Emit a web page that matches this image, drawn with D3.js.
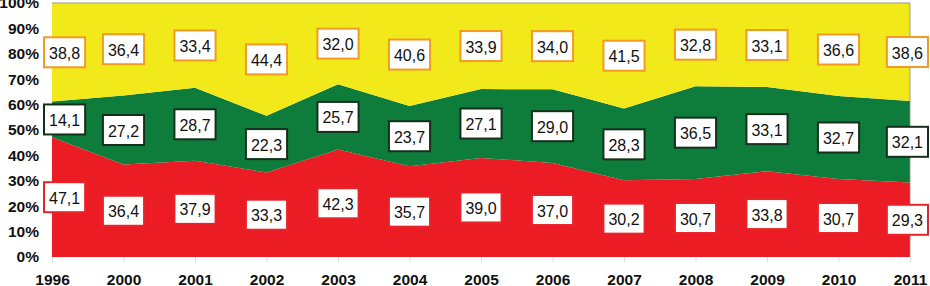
<!DOCTYPE html>
<html>
<head>
<meta charset="utf-8">
<script src="https://cdn.jsdelivr.net/npm/d3@7"></script>
<style>
  body { margin: 0; background: #fff; }
  svg { display: block; font-family: "Liberation Sans", Arial, sans-serif; }
</style>
</head>
<body>
<svg id="chart" width="930" height="286"></svg>
<script>
var years = ["1996", "2000", "2001", "2002", "2003", "2004", "2005", "2006", "2007", "2008", "2009", "2010", "2011"];
var redVals = [47.1, 36.4, 37.9, 33.3, 42.3, 35.7, 39.0, 37.0, 30.2, 30.7, 33.8, 30.7, 29.3];
var greenVals = [14.1, 27.2, 28.7, 22.3, 25.7, 23.7, 27.1, 29.0, 28.3, 36.5, 33.1, 32.7, 32.1];
var yellowVals = [38.8, 36.4, 33.4, 44.4, 32.0, 40.6, 33.9, 34.0, 41.5, 32.8, 33.1, 36.6, 38.6];
var yTicks = [0, 10, 20, 30, 40, 50, 60, 70, 80, 90, 100];

var series = [
  { key: "red", fill: "#ec1c24", border: "#e8242b" },
  { key: "green", fill: "#0e7c3a", border: "#14301c" },
  { key: "yellow", fill: "#f2e91b", border: "#f39a22" }
];

var rows = years.map(function (y, i) {
  return { year: y, red: redVals[i], green: greenVals[i], yellow: yellowVals[i] };
});

var svg = d3.select("#chart");

var x = d3.scalePoint().domain(years).range([52, 910]);
var y = d3.scaleLinear().domain([0, 100]).range([257, 3]);

var stacked = d3.stack().keys(series.map(function (s) { return s.key; }))(rows);

var area = d3.area()
  .x(function (d) { return x(d.data.year); })
  .y0(function (d) { return y(d[0]); })
  .y1(function (d) { return y(d[1]); });

svg.append("g")
  .selectAll("path")
  .data(stacked)
  .enter().append("path")
    .attr("d", area)
    .attr("fill", function (d, i) { return series[i].fill; });

// frame lines top and right
svg.append("line")
  .attr("x1", 52).attr("x2", 910).attr("y1", 3).attr("y2", 3)
  .attr("stroke", "#9a9a8a").attr("stroke-width", 1);
svg.append("line")
  .attr("x1", 910).attr("x2", 910).attr("y1", 3).attr("y2", 257)
  .attr("stroke", "#8a8a7a").attr("stroke-width", 0.8);

// y axis
var yAxis = svg.append("g").attr("transform", "translate(52,0)")
  .call(d3.axisLeft(y).tickValues(yTicks).tickSize(0).tickPadding(13)
    .tickFormat(function (d) { return d + "%"; }));
yAxis.select(".domain").remove();
yAxis.selectAll("text")
  .attr("font-size", 15.5).attr("font-weight", "bold").attr("fill", "#111")
  .attr("font-family", "Liberation Sans, Arial, sans-serif");

// x axis
var xAxis = svg.append("g").attr("transform", "translate(0,257)")
  .call(d3.axisBottom(x).tickSize(5).tickPadding(12));
xAxis.select(".domain").remove();
xAxis.selectAll("line").attr("stroke", "#ddd");
xAxis.selectAll("text")
  .attr("font-size", 15.5).attr("font-weight", "bold").attr("fill", "#111")
  .attr("font-family", "Liberation Sans, Arial, sans-serif");

// value labels
var fmt = function (v) { return v.toFixed(1).replace(".", ","); };

stacked.forEach(function (layer, i) {
  var g = svg.append("g");
  layer.forEach(function (d) {
    var cx = x(d.data.year);
    var cy = y((d[0] + d[1]) / 2);
    var lab = g.append("g");
    var rect = lab.append("rect")
      .attr("fill", "#fff")
      .attr("stroke", series[i].border)
      .attr("stroke-width", 2);
    var t = lab.append("text")
      .attr("text-anchor", "middle")
      .attr("dominant-baseline", "central")
      .attr("font-size", 16)
      .attr("fill", "#111")
      .text(fmt(d[1] - d[0]));
    var w = t.node().getComputedTextLength() + 10;
    var h = 30;
    var left = Math.max(44, Math.min(928 - w, cx - w / 2));
    rect.attr("x", left).attr("y", cy - h / 2).attr("width", w).attr("height", h);
    t.attr("x", left + w / 2).attr("y", cy + 1);
  });
});
</script>
</body>
</html>
